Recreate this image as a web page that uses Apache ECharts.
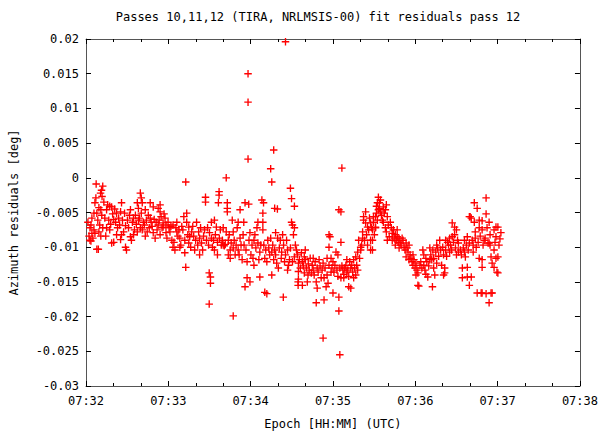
<!DOCTYPE html>
<html>
<head>
<meta charset="utf-8">
<script src="https://cdn.jsdelivr.net/npm/echarts@6/dist/echarts.min.js"></script>
<style>
html,body{margin:0;padding:0;background:#fff;}
#chart{width:601px;height:435px;}
</style>
</head>
<body>
<div id="chart"></div>
<script>
// Time in seconds after 07:32:00 UTC, azimuth residual in degrees
const titleText = 'Passes 10,11,12 (TIRA, NRLMSIS-00) fit residuals pass 12';
const xAxisTitle = 'Epoch [HH:MM] (UTC)';
const yAxisTitle = 'Azimuth residuals [deg]';
const xTickLabels = ['07:32','07:33','07:34','07:35','07:36','07:37','07:38'];
const yTickLabels = ['-0.03','-0.025','-0.02','-0.015','-0.01','-0.005','0','0.005','0.01','0.015','0.02'];

const seg0 = [[2.9,-.0090],[4.3,-.0080],[5.8,-.0075],[3.6,-.0068],[6.5,-.0080],[2.2,-.0084],[5,-.0087],[1.4,-.0064],[7.2,-.0029],[6.5,-.0036],[5.8,-.0051],[4.3,-.0058],[2.9,-.0072],[7.9,-.0103],[3.6,-.0091],
[7.4,-.0009],[12.2,-.0012],[11.3,-.0018],[10.6,-.0022],[11.7,-.0027],[13,-.0035],[9.4,-.0043],[10.8,-.0046],[7.9,-.0051],[11.5,-.0054],[8.6,-.0061],[10,-.0068],[12.2,-.0072],[9.4,-.0078],[9,-.0103],[10.8,-.0084],
[15,-.0046],[14.4,-.0084],[15.8,-.0039],[17.3,-.0041],[18.7,-.0042],[13.7,-.0058],[16.6,-.0061],[18,-.0067],[19.4,-.0052],[20.2,-.0093],[18.7,-.0094],[15,-.0072],[17.3,-.0075],[20.2,-.0060],
[22.3,-.0082],[25.9,-.0082],[25.9,-.0036],[25.2,-.0049],[22.3,-.0051],[23.8,-.0058],[21.6,-.0064],[24.5,-.0068],[26.6,-.0061],[23,-.0072],[20.9,-.0045],[27.4,-.0078],[25.2,-.0089],
[28.8,-.0100],[29.5,-.0104],[32.4,-.0085],[33.1,-.0090],[34.6,-.0082],[31,-.0072],[30.2,-.0061],[31.7,-.0054],[28.1,-.0051],[33.8,-.0064],[32.4,-.0046],[28.8,-.0069],[34.6,-.0058],
[39.6,-.0022],[40.3,-.0029],[41,-.0036],[37.4,-.0036],[38.2,-.0044],[36,-.0054],[38.9,-.0058],[36.7,-.0067],[41.8,-.0064],[35.3,-.0075],[39.6,-.0072],[37.4,-.0078],[41,-.0075],[38.2,-.0061],[40.3,-.0051],
[46.8,-.0036],[49,-.0042],[43.2,-.0046],[45.4,-.0054],[44,-.0061],[47.5,-.0064],[42.5,-.0068],[46.1,-.0072],[44.6,-.0078],[48.2,-.0070],[49,-.0079],[43.2,-.0084],[46.8,-.0058],
[52.6,-.0044],[54,-.0039],[54,-.0049],[54.7,-.0056],[50.4,-.0087],[54,-.0082],[51.1,-.0064],[52.6,-.0068],[55.4,-.0072],[49.7,-.0060],[53.3,-.0061],[51.8,-.0075],[56.2,-.0065],
[56.2,-.0071],[58.3,-.0079],[57.6,-.0058],[59.8,-.0064],[59,-.0087],[56.9,-.0052],[58.3,-.0068]];

const seg1 = [[61.2,-.0078],[63.4,-.0100],[61.9,-.0070],[60.5,-.0072],[62.6,-.0090],
[63.4,-.0068],[64.8,-.0104],[65.5,-.0072],[66.2,-.0078],[67,-.0084],[68.4,-.0087],[67.7,-.0075],[69.1,-.0097],[64.1,-.0093],[69.8,-.0070],[66.2,-.0064],[68.4,-.0100],
[72.7,-.0006],[72,-.0108],[72.7,-.0129],[71.3,-.0056],[73.4,-.0064],[74.9,-.0071],[70.6,-.0075],[74.2,-.0082],[75.6,-.0085],[76.3,-.0100],[72,-.0090],[77,-.0078],[74.9,-.0094],[73.4,-.0051],
[78.5,-.0084],[79.9,-.0090],[81.4,-.0097],[82.8,-.0087],[84.2,-.0094],[79.2,-.0104],[82.1,-.0078],[83.5,-.0072],[80.6,-.0064],[77.8,-.0070],[85,-.0104],[82.8,-.0111],
[87.1,-.0028],[87.1,-.0035],[89.8,-.0137],[90.7,-.0143],[90.7,-.0152],[89.8,-.0182],[85.7,-.0084],[87.8,-.0090],[89.3,-.0097],[91.4,-.0087],[86.4,-.0075],[88.6,-.0072],[90,-.0079],[92.2,-.0100],[91.4,-.0064],
[97,-.0020],[97,-.0025],[96.5,-.0036],[92.9,-.0090],[94.3,-.0082],[95.8,-.0093],[97.2,-.0087],[98.6,-.0097],[93.6,-.0104],[97.9,-.0075],[95,-.0071],[99.4,-.0090],[95.8,-.0111],[93.6,-.0061],
[102.2,0.0000],[103,-.0036],[103,-.0044],[103,-.0049],[100,-.0097],[100.8,-.0098],[101.5,-.0096],[103.7,-.0090],[105.1,-.0104],[104.4,-.0082],[105.8,-.0094],[106.6,-.0061],[102.2,-.0078],[103.7,-.0111],[105.1,-.0116],[100,-.0072],
[107.3,-.0199],[108,-.0090],[109.4,-.0097],[110.9,-.0104],[112.3,-.0087],[107.3,-.0078],[110.2,-.0072],[111.6,-.0111],[113,-.0097],[113.8,-.0118],[110.9,-.0064],[108.7,-.0111],[112.3,-.0046],[107.3,-.0101],
[118.1,.0150],[118.1,.0109],[118.1,.0027],[115.9,-.0036],[118.6,-.0038],[115,-.0064],[115.9,-.0157],[117.4,-.0144],[119.5,-.0150],[115.2,-.0097],[116.6,-.0104],[118.8,-.0090],[120.2,-.0111],[114.5,-.0082],[119.5,-.0079],[117.4,-.0121]];

const seg2 = [[121,-.0097],
[126.7,-.0143],[128.2,-.0032],[122.4,-.0090],[123.8,-.0101],[125.3,-.0094],[126.7,-.0107],[121.7,-.0116],[123.1,-.0082],[124.6,-.0072],[126,-.0118],[127.4,-.0097],[122.4,-.0126],[125.3,-.0064],
[129.4,-.0036],[128.9,-.0051],[128.9,-.0064],[128.9,-.0075],[130.3,-.0165],[131.8,-.0167],[134.6,.0013],[135.4,-.0006],[129.6,-.0097],[131,-.0104],[132.5,-.0090],[133.9,-.0111],[130.3,-.0116],[133.2,-.0101],[131.8,-.0121],[134.6,-.0087],[135.4,-.0107],
[136.8,.0040],[137.5,-.0044],[139.5,-.0045],[135.4,-.0140],[140.2,-.0130],[139,-.0123],[136.1,-.0097],[137.5,-.0104],[138.2,-.0111],[140.9,-.0101],[142.3,-.0116],[141.6,-.0090],[136.8,-.0118],[139.7,-.0087],[142.6,-.0107],[138.2,-.0079],
[145.4,.0196],[143.8,-.0172],[149,-.0015],[144,-.0097],[145.4,-.0111],[146.9,-.0104],[148.3,-.0118],[144.7,-.0121],[146.2,-.0090],[147.6,-.0126],[149,-.0101],[143.3,-.0082],[146.9,-.0133],[149.8,-.0030],
[151.9,-.0041],[149.8,-.0064],[151.9,-.0072],[150.5,-.0068],[151.9,-.0114],[154.6,-.0155],[154.6,-.0150],[154.8,-.0123],[154.8,-.0135],[154.8,-.0146],[151.2,-.0082],[152.6,-.0097],[154.1,-.0111],[155.5,-.0118],[157,-.0108],[153.4,-.0104],[156.2,-.0130],[150.5,-.0121],
[159.1,-.0137],[161.8,-.0140],[159.1,-.0114],[164.2,-.0137],[157.7,-.0121],[158.4,-.0127],[159.8,-.0118],[160.6,-.0130],[162,-.0124],[162.7,-.0133],[163.4,-.0116],[161.3,-.0150],[159.8,-.0104],[157.7,-.0155],
[167.8,-.0150],[169.9,-.0118],[167.8,-.0180],[164.9,-.0126],[165.6,-.0133],[166.3,-.0140],[167,-.0121],[168.5,-.0130],[169.2,-.0136],[170.6,-.0127],[171.4,-.0144],[165.6,-.0116],[168.5,-.0159],
[172.8,-.0123],[172.8,-.0231],[173.5,-.0176],[175,-.0157],[176.4,-.0152],[177.1,-.0082],[177.8,-.0085],[177.1,-.0100],[172.1,-.0133],[174.2,-.0130],[175.7,-.0140],[177.1,-.0126],[178.6,-.0136],[173.5,-.0144],[175.7,-.0116],[178.6,-.0116]];

const seg3 = [[180,-.0166],[182.2,-.0107],[183.6,-.0111],[184.3,-.0046],[185.8,-.0049],[185.8,-.0093],[184.3,-.0172],[184.3,-.0192],[185,-.0255],[186.5,.0014],[179.3,-.0130],[180.7,-.0136],[181.4,-.0126],[182.9,-.0133],[183.6,-.0142],[185,-.0130],[185.8,-.0144],[180,-.0121],
[191.5,-.0157],[193,-.0159],[186.5,-.0127],[187.2,-.0133],[187.9,-.0139],[188.6,-.0130],[189.4,-.0126],[190.1,-.0136],[190.8,-.0133],[191.5,-.0142],[192.2,-.0121],[193,-.0130],[187.9,-.0144],[190.1,-.0118],
[195.1,-.0118],[196.6,-.0114],[200.2,-.0100],[200.2,-.0104],[198.7,-.0090],[193.7,-.0126],[194.4,-.0136],[195.8,-.0130],[197.3,-.0126],[198,-.0133],[196.6,-.0140],[199.4,-.0116],[195.1,-.0144],[198,-.0107],
[201.6,-.0078],[203.8,-.0049],[202.3,-.0061],[205.2,-.0071],[202.3,-.0056],[203.8,-.0065],[201.6,-.0087],[207.4,-.0090],[207.4,-.0065],[207.4,-.0104],[200.9,-.0097],[203,-.0090],[204.5,-.0082],[206,-.0075],[206.6,-.0058],[205.2,-.0097],
[208.8,-.0075],[208.8,-.0090],[208.8,-.0104],[209.5,-.0056],[209.5,-.0064],[211,-.0072],[211,-.0056],[211,-.0071],[213.1,-.0028],[214.6,-.0032],[213.8,-.0044],[212.4,-.0036],[213.1,-.0046],[211.7,-.0051],[210.2,-.0082],[208.1,-.0072],[212.4,-.0061],[214.6,-.0049],[213.8,-.0036],[211.7,-.0041],
[216.7,-.0042],[218.2,-.0046],[219.6,-.0056],[217.4,-.0051],[218.9,-.0039],[215.3,-.0054],[219.6,-.0090],[221,-.0085],[216.7,-.0064],[218.2,-.0072],[220.3,-.0068],[221.8,-.0064],[216,-.0061],[218.9,-.0078],
[222.5,-.0072],[223.2,-.0080],[224,-.0075],[224.6,-.0087],[225.4,-.0082],[226.1,-.0090],[226.8,-.0085],[227.5,-.0093],[228.2,-.0087],[229,-.0094],[223.2,-.0090],[225.4,-.0097],[226.8,-.0075],[228.2,-.0101],
[229.7,-.0097],[231.1,-.0090],[232.6,-.0104],[233.3,-.0094],[234,-.0101],[234.7,-.0107],[235.4,-.0097],[236.2,-.0111],[230.4,-.0087],[231.8,-.0100],[233.3,-.0114],[235.4,-.0118]];

const seg4 = [[236.9,-.0116],[237.6,-.0121],[238.3,-.0126],[239,-.0118],[239.8,-.0130],[240.5,-.0123],[241.2,-.0133],[241.9,-.0137],[241.9,-.0155],[242.6,-.0156],[243.4,-.0126],[238.3,-.0111],[240.5,-.0140],
[245.5,-.0104],[249.1,-.0143],[250.6,-.0101],[244,-.0121],[244.8,-.0130],[246.2,-.0126],[247,-.0133],[247.7,-.0116],[248.4,-.0121],[249.8,-.0127],[250.6,-.0118],[246.2,-.0111],[247.7,-.0139],
[252,-.0118],[252.5,-.0157],[254.2,-.0140],[255.6,-.0123],[251.3,-.0111],[252.8,-.0104],[253.4,-.0116],[254.9,-.0107],[256.3,-.0101],[257,-.0113],[257.8,-.0090],[253.4,-.0130],[255.6,-.0097],
[260,-.0100],[263.5,-.0093],[261.4,-.0137],[261.4,-.0130],[260.6,-.0140],[259.2,-.0126],[258.5,-.0104],[260.6,-.0111],[262.1,-.0104],[262.8,-.0113],[264.2,-.0097],[265,-.0107],[262.1,-.0090],[265,-.0087],
[268.6,-.0071],[270,-.0075],[266.9,-.0085],[271.4,-.0094],[265.7,-.0097],[266.4,-.0104],[267.8,-.0093],[269.3,-.0101],[270.8,-.0090],[271.4,-.0107],[268.6,-.0082],[270,-.0111],[266.9,-.0065]];

const seg5 = [[274.3,-.0130],[277.9,-.0129],[277.9,-.0143],[274.3,-.0144],[279.4,-.0155],[272.9,-.0104],[273.6,-.0111],[275,-.0101],[275.8,-.0107],[276.5,-.0114],[277.2,-.0097],[278.6,-.0104],[279.4,-.0056],[275.8,-.0090],[277.9,-.0085],[279.4,-.0094],
[280,-.0056],[280.8,-.0058],[283,-.0064],[283,-.0036],[285.1,-.0044],[280.8,-.0143],[285.1,-.0166],[281.5,-.0090],[282.2,-.0097],[283.7,-.0087],[284.4,-.0100],[285.8,-.0093],[286.6,-.0072],[286.6,-.0061],[286.6,-.0116],[283.7,-.0078],[282.2,-.0107],
[288.7,-.0075],[288.7,-.0062],[291.6,-.0029],[291.6,-.0052],[292.3,-.0072],[288.7,-.0118],[288.7,-.0129],[288,-.0166],[291.6,-.0167],[288.7,-.0166],[290.2,-.0090],[289.4,-.0097],[290.9,-.0087],[293,-.0094],[293.8,-.0064],[293.8,-.0094],[293.8,-.0180],[287.3,-.0084],
[295.2,-.0114],[296,-.0123],[297.4,-.0129],[297.4,-.0104],[298.8,-.0116],[300.2,-.0114],[299.5,-.0136],[300.2,-.0137],[295.2,-.0166],[296,-.0166],[298.8,-.0071],[300.2,-.0071],[297.4,-.0075],[298.8,-.0085],[301.7,-.0088],[294.5,-.0097],[298.1,-.0093],[301,-.0097],[294.5,-.0082],[302.4,-.0079]];

const allPoints = seg0.concat(seg1, seg2, seg3, seg4, seg5);

const FONT = '"DejaVu Sans Mono", "Liberation Mono", monospace';
const AXIS_COLOR = '#555555';
const X_MIN = 0, X_MAX = 360, X_STEP = 60;
const Y_MIN = -0.03, Y_MAX = 0.02, Y_STEP = 0.005;

function xLabel(v){ return xTickLabels[Math.round((v - X_MIN) / X_STEP)] || ''; }
function yLabel(v){ return yTickLabels[Math.round((v - Y_MIN) / Y_STEP)] || ''; }

const chart = echarts.init(document.getElementById('chart'), null, {renderer: 'svg'});
const plusPath = 'path://M41,0H59V41H100V59H59V100H41V59H0V41H41Z';

const xCommon = {
  type: 'value', min: X_MIN, max: X_MAX, interval: X_STEP,
  axisLine: {show: true, onZero: false, lineStyle: {color: AXIS_COLOR, width: 1}},
  axisTick: {show: true, inside: true, length: 5, lineStyle: {color: '#000'}},
  minorTick: {show: true, splitNumber: 3, length: 3, lineStyle: {color: '#000'}},
  splitLine: {show: false}, minorSplitLine: {show: false}
};
const yCommon = {
  type: 'value', min: Y_MIN, max: Y_MAX, interval: Y_STEP,
  axisLine: {show: true, onZero: false, lineStyle: {color: AXIS_COLOR, width: 1}},
  axisTick: {show: true, inside: true, length: 5, lineStyle: {color: '#000'}},
  splitLine: {show: false}
};

chart.setOption({
  animation: false,
  backgroundColor: '#ffffff',
  grid: {left: 82, right: 19, top: 39, bottom: 49, containLabel: false},
  graphic: [
    {type: 'text', x: 318, y: 17, style: {text: titleText, font: '12px ' + FONT, fill: '#000', align: 'center', verticalAlign: 'middle', textAlign: 'center', textVerticalAlign: 'middle'}}
  ],
  xAxis: [
    Object.assign({}, xCommon, {
      position: 'bottom',
      axisLabel: {show: true, formatter: xLabel, fontFamily: FONT, fontSize: 12, color: '#000', margin: 9},
      name: xAxisTitle, nameLocation: 'middle', nameGap: 32,
      nameTextStyle: {fontFamily: FONT, fontSize: 12, color: '#000'}
    }),
    Object.assign({}, xCommon, {position: 'top', axisLabel: {show: false}})
  ],
  yAxis: [
    Object.assign({}, yCommon, {
      position: 'left',
      axisLabel: {show: true, formatter: yLabel, fontFamily: FONT, fontSize: 12, color: '#000', margin: 7},
      name: yAxisTitle, nameLocation: 'middle', nameGap: 66,
      nameTextStyle: {fontFamily: FONT, fontSize: 12, color: '#000'}
    }),
    Object.assign({}, yCommon, {position: 'right', axisLabel: {show: false}})
  ],
  series: [{
    type: 'scatter',
    xAxisIndex: 0, yAxisIndex: 0,
    data: allPoints,
    symbol: plusPath,
    symbolSize: 7.5,
    itemStyle: {color: '#ff0000', opacity: 1},
    emphasis: {disabled: true},
    clip: true
  }]
});
</script>
</body>
</html>
